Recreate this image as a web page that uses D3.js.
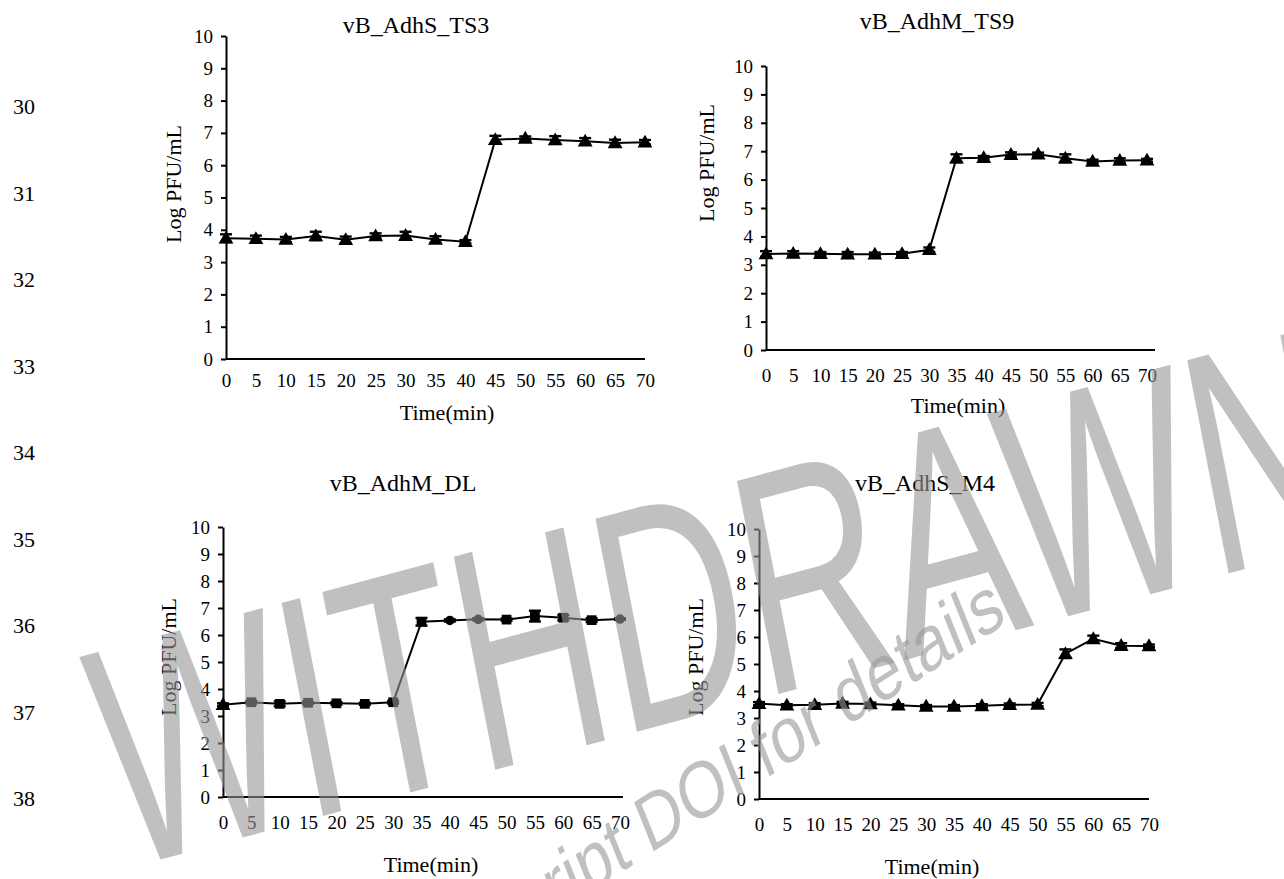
<!DOCTYPE html>
<html>
<head>
<meta charset="utf-8">
<script src="https://cdn.jsdelivr.net/npm/d3@7"></script>
<style>
  html, body { margin: 0; padding: 0; background: #ffffff; }
  svg { display: block; }
</style>
</head>
<body>
<svg id="fig" width="1284" height="879"></svg>
<script>
// Sampling times (min) shared by all four one-step growth curves
const times = [0, 5, 10, 15, 20, 25, 30, 35, 40, 45, 50, 55, 60, 65, 70];
const yTickValues = [0, 1, 2, 3, 4, 5, 6, 7, 8, 9, 10];

// Phage titres (log PFU/mL) and their standard deviations
const ts3Values = [3.74, 3.72, 3.70, 3.81, 3.69, 3.81, 3.82, 3.70, 3.63, 6.79, 6.83, 6.78, 6.74, 6.69, 6.71];
const ts3Errors = [0.12, 0.10, 0.08, 0.13, 0.10, 0.08, 0.12, 0.10, 0.05, 0.12, 0.06, 0.12, 0.10, 0.10, 0.07];

const ts9Values = [3.38, 3.40, 3.39, 3.37, 3.37, 3.39, 3.53, 6.75, 6.77, 6.88, 6.89, 6.75, 6.64, 6.67, 6.68];
const ts9Errors = [0.10, 0.08, 0.06, 0.08, 0.06, 0.06, 0.08, 0.14, 0.06, 0.08, 0.06, 0.14, 0.06, 0.08, 0.05];

const dlValues = [3.42, 3.51, 3.45, 3.49, 3.47, 3.45, 3.51, 6.49, 6.54, 6.58, 6.57, 6.70, 6.64, 6.55, 6.59];
const dlErrors = [0.05, 0.05, 0.09, 0.04, 0.05, 0.04, 0.05, 0.14, 0.04, 0.04, 0.04, 0.20, 0.10, 0.07, 0.03];
const dlShapes = ["triangle", "square", "square", "square", "square", "square", "square", "square",
                  "circle", "circle", "square", "square", "square", "square", "circle"];

const m4Values = [3.53, 3.47, 3.49, 3.54, 3.52, 3.47, 3.43, 3.43, 3.45, 3.49, 3.50, 5.38, 5.93, 5.68, 5.67];
const m4Errors = [0.06, 0.04, 0.06, 0.06, 0.05, 0.04, 0.05, 0.05, 0.06, 0.05, 0.06, 0.16, 0.12, 0.09, 0.05];

const panelTitles = ["vB_AdhS_TS3", "vB_AdhM_TS9", "vB_AdhM_DL", "vB_AdhS_M4"];
const lineNumbers = ["30", "31", "32", "33", "34", "35", "36", "37", "38"];
const xAxisTitle = "Time(min)";
const yAxisTitle = "Log PFU/mL";

const SERIF = "'Times New Roman', 'Liberation Serif', 'DejaVu Serif', serif";
const SANS = "Arial, 'Liberation Sans', Helvetica, sans-serif";

const svg = d3.select("#fig");

// Manuscript line numbers down the left margin
svg.append("g").selectAll("text")
  .data(lineNumbers)
  .join("text")
  .attr("x", 13)
  .attr("y", (d, i) => 114 + i * 86.5)
  .attr("font-family", SERIF)
  .attr("font-size", 22)
  .attr("fill", "#000")
  .text(d => d);

// Layout of each panel: plot box and label anchors
const layouts = [
  { values: ts3Values, errors: ts3Errors, shapes: null, left: 226, right: 645, top: 36, bottom: 359, ext: 0,
    titleX: 416, titleY: 33, xTitleX: 447, xTitleY: 420, yTitleX: 181, yTitleY: 184, tickPad: 15 },
  { values: ts9Values, errors: ts9Errors, shapes: null, left: 766, right: 1147, top: 66, bottom: 350, ext: 8,
    titleX: 937, titleY: 29, xTitleX: 958, xTitleY: 413, yTitleX: 714, yTitleY: 163, tickPad: 19 },
  { values: dlValues, errors: dlErrors, shapes: dlShapes, left: 223, right: 620, top: 527, bottom: 797, ext: 3,
    titleX: 403, titleY: 491, xTitleX: 431, xTitleY: 872, yTitleX: 176, yTitleY: 657, tickPad: 19 },
  { values: m4Values, errors: m4Errors, shapes: null, left: 759, right: 1149, top: 529, bottom: 799, ext: 0,
    titleX: 925, titleY: 491, xTitleX: 932, xTitleY: 874, yTitleX: 703, yTitleY: 657, tickPad: 19 }
];

const triangle = d3.symbol().type(d3.symbolTriangle).size(95);
const square = d3.symbol().type(d3.symbolSquare).size(95);
const circle = d3.symbol().type(d3.symbolCircle).size(70);
const shapeGen = { triangle, square, circle };

layouts.forEach((p, k) => {
  const g = svg.append("g");
  const x = d3.scaleLinear().domain([0, 70]).range([p.left, p.right]);
  const y = d3.scaleLinear().domain([0, 10]).range([p.bottom, p.top]);

  // y axis with outward ticks
  const yAxis = g.append("g")
    .attr("transform", `translate(${p.left},0)`)
    .call(d3.axisLeft(y).tickValues(yTickValues).tickSize(5).tickSizeOuter(0).tickPadding(8).tickFormat(d3.format("d")));
  yAxis.select(".domain").attr("stroke", "#000").attr("stroke-width", 2);
  yAxis.selectAll(".tick line").attr("stroke", "#000").attr("stroke-width", 2);
  yAxis.selectAll("text").attr("font-family", SERIF).attr("font-size", 19).attr("fill", "#000");

  // x axis: category labels, no tick marks
  const xAxis = g.append("g")
    .attr("transform", `translate(0,${p.bottom})`)
    .call(d3.axisBottom(x).tickValues(times).tickSize(0).tickPadding(p.tickPad).tickFormat(d3.format("d")));
  xAxis.select(".domain").attr("stroke", "#000").attr("stroke-width", 2)
    .attr("d", `M${p.left},0H${p.right + p.ext}`);
  xAxis.selectAll("text").attr("font-family", SERIF).attr("font-size", 19).attr("fill", "#000");

  // Titles
  g.append("text")
    .attr("x", p.titleX).attr("y", p.titleY)
    .attr("text-anchor", "middle")
    .attr("font-family", SERIF).attr("font-size", 24)
    .text(panelTitles[k]);
  g.append("text")
    .attr("x", p.xTitleX).attr("y", p.xTitleY)
    .attr("text-anchor", "middle")
    .attr("font-family", SERIF).attr("font-size", 22)
    .text(xAxisTitle);
  g.append("text")
    .attr("transform", `translate(${p.yTitleX},${p.yTitleY}) rotate(-90)`)
    .attr("text-anchor", "middle")
    .attr("font-family", SERIF).attr("font-size", 22)
    .text(yAxisTitle);

  const pts = times.map((t, i) => ({ t, v: p.values[i], e: p.errors[i], s: p.shapes ? p.shapes[i] : "triangle" }));

  // Connecting line
  g.append("path")
    .datum(pts)
    .attr("fill", "none")
    .attr("stroke", "#000")
    .attr("stroke-width", 2)
    .attr("d", d3.line().x(d => x(d.t)).y(d => y(d.v)));

  // Error bars with caps
  const eb = g.append("g").attr("stroke", "#000").attr("stroke-width", 2.4);
  eb.selectAll("line.v").data(pts).join("line")
    .attr("x1", d => x(d.t)).attr("x2", d => x(d.t))
    .attr("y1", d => y(d.v - d.e)).attr("y2", d => y(d.v + d.e));
  eb.selectAll("line.hi").data(pts).join("line")
    .attr("x1", d => x(d.t) - 6).attr("x2", d => x(d.t) + 6)
    .attr("y1", d => y(d.v + d.e)).attr("y2", d => y(d.v + d.e));
  eb.selectAll("line.lo").data(pts).join("line")
    .attr("x1", d => x(d.t) - 6).attr("x2", d => x(d.t) + 6)
    .attr("y1", d => y(d.v - d.e)).attr("y2", d => y(d.v - d.e));

  // Markers
  g.append("g").selectAll("path")
    .data(pts)
    .join("path")
    .attr("transform", d => `translate(${x(d.t)},${y(d.v) + (d.s === "triangle" ? 1 : 0)})`)
    .attr("d", d => shapeGen[d.s]())
    .attr("fill", "#000");
});

// Retraction watermark laid over the page
const wm = svg.append("g")
  .attr("fill", "#969696")
  .attr("fill-opacity", 0.6)
  .attr("font-family", SANS);
wm.append("text")
  .attr("transform", "translate(737,705) rotate(-15) skewX(-4) scale(1,1.55)")
  .attr("text-anchor", "middle")
  .attr("font-size", 203)
  .text("WITHDRAWN");
wm.append("text")
  .attr("transform", "translate(1008,622) scale(1,1.27) rotate(-27)")
  .attr("text-anchor", "end")
  .attr("font-size", 63)
  .text("see manuscript DOI for details");
</script>
</body>
</html>
